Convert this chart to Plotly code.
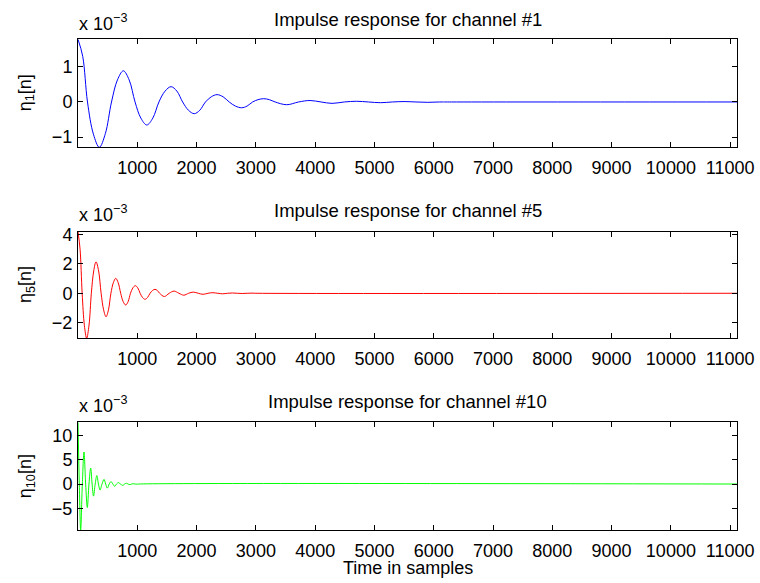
import plotly.graph_objects as go

W, H = 760, 583

# ---------------- data (values in units of 1e-3, read/estimated from the picture) ----------------
ch1_n = [0, 80, 160, 260, 360, 462, 565, 665, 765, 863, 962, 1060, 1160, 1262, 1365,
         1468, 1570, 1668, 1765, 1862, 1960, 2055, 2150, 2248, 2345, 2448, 2550,
         2655, 2760, 2852, 2945, 3037, 3130, 3228, 3325, 3521, 3720, 3914, 4100,
         4285, 4490, 4700, 4900, 5100, 5300, 5500, 5700, 5900, 6100, 6300, 11115]
ch1_v = [1.79, 1.3, 0, -0.92, -1.294, -0.9, 0, 0.63, 0.89, 0.63, 0, -0.46, -0.657, -0.46, 0,
         0.31, 0.437, 0.31, 0, -0.235, -0.334, -0.235, 0, 0.148, 0.21, 0.148, 0,
         -0.117, -0.165, -0.117, 0, 0.066, 0.094, 0.066, 0, -0.078, 0, 0.042, 0,
         -0.04, 0, 0.02, 0, -0.02, 0, 0.012, 0, -0.01, 0, 0, 0]

ch5_n = [0, 35, 70, 108, 146, 186, 225, 265, 304, 348, 390, 432, 473, 514, 555,
         596, 636, 678, 720, 762, 804, 845, 885, 926, 967, 1008, 1048, 1089, 1130,
         1172, 1215, 1257, 1299, 1338, 1377, 1456, 1538, 1620, 1702, 1785, 1865,
         1945, 2028, 2110, 2192, 2275, 2358, 2440, 2522, 2605, 2688, 2770, 2852,
         2935, 3020, 11115]
ch5_v = [4.2, 3.0, 0, -2.2, -3.07, -2.17, 0, 1.52, 2.15, 1.52, 0, -1.13, -1.6, -1.13, 0,
         0.72, 1.02, 0.72, 0, -0.57, -0.8, -0.57, 0, 0.37, 0.52, 0.37, 0, -0.29, -0.41,
         -0.29, 0, 0.19, 0.27, 0.19, 0, -0.22, 0, 0.15, 0, -0.13, 0,
         0.08, 0, -0.07, 0, 0.04, 0, -0.035, 0, 0.02, 0, -0.015, 0,
         0.01, 0, 0]

ch10_n = [0, 22, 45, 73, 101, 129, 157, 185, 214, 238, 262, 290, 318, 345, 372, 405,
          439, 467, 495, 526, 557, 588, 619, 650, 681, 717, 754, 785, 815, 845, 875,
          905, 935, 965, 995, 1025, 11115]
ch10_v = [12.75, 0, -9.5, 0, 6.6, 0, -4.85, 0, 3.3, 0, -2.5, 0, 1.75, 0, -1.25, 0,
          0.95, 0, -0.85, 0, 0.5, 0, -0.48, 0, 0.28, 0, -0.28, 0, 0.15, 0, -0.12,
          0, 0.06, 0, -0.04, 0, 0]

x_ticks = [1000, 2000, 3000, 4000, 5000, 6000, 7000, 8000, 9000, 10000, 11000]
x_range = [0, 11115]

titles = ["Impulse response for channel #1",
          "Impulse response for channel #5",
          "Impulse response for channel #10"]
ylabels = ["η<sub>1</sub>[n]", "η<sub>5</sub>[n]", "η<sub>10</sub>[n]"]
y_ticks = [[-1, 0, 1], [-2, 0, 2, 4], [-5, 0, 5, 10]]
y_ranges = [[-1.294, 1.79], [-3.07, 4.2], [-9.5, 12.75]]
colors = ["#0000ff", "#ff0000", "#00ff00"]

series_n = [ch1_n, ch5_n, ch10_n]
series_v = [ch1_v, ch5_v, ch10_v]

# ---------------- layout geometry (pixels) ----------------
x_left, x_right = 78, 737
panels = [(39.3, 147.3), (231.7, 338.3), (422.3, 530.0)]   # (top, bottom)
title_mid = [19.8, 210.0, 401.2]
exp_bottom = [35.8, 227.1, 418.1]

FONT = "Liberation Sans, Arial, Helvetica, sans-serif"

def px_x(p):
    return p / W

def px_y(p):
    return 1 - p / H

fig = go.Figure()
layout = dict(
    width=W, height=H,
    margin=dict(l=0, r=0, t=0, b=0, autoexpand=False),
    paper_bgcolor="white", plot_bgcolor="white",
    showlegend=False,
    font=dict(family=FONT, size=18, color="black"),
)
annotations = []

for i in range(3):
    k = "" if i == 0 else str(i + 1)
    fig.add_trace(go.Scatter(
        x=series_n[i], y=series_v[i], mode="lines",
        line=dict(color=colors[i], width=1, shape="spline", smoothing=1.0),
        xaxis="x" + k, yaxis="y" + k, hoverinfo="skip"))
    top, bot = panels[i]
    layout["xaxis" + k] = dict(
        domain=[px_x(x_left), px_x(x_right)], anchor="y" + k,
        range=x_range, tickvals=x_ticks, ticktext=[str(t) for t in x_ticks],
        showline=True, linecolor="black", linewidth=1, mirror="ticks",
        ticks="inside", ticklen=5, tickcolor="black", tickwidth=1,
        showgrid=False, zeroline=False, ticklabelstandoff=4,
        tickfont=dict(family=FONT, size=18, color="black"))
    layout["yaxis" + k] = dict(
        domain=[px_y(bot), px_y(top)], anchor="x" + k,
        range=y_ranges[i], tickvals=y_ticks[i],
        showline=True, linecolor="black", linewidth=1, mirror="ticks",
        ticks="inside", ticklen=5, tickcolor="black", tickwidth=1,
        showgrid=False, zeroline=False, ticklabelstandoff=1,
        tickfont=dict(family=FONT, size=18, color="black"))
    annotations.append(dict(
        text=titles[i], xref="paper", yref="paper",
        x=px_x((x_left + x_right) / 2), y=px_y(title_mid[i]),
        xanchor="center", yanchor="middle", showarrow=False,
        font=dict(family=FONT, size=18.5, color="black")))
    annotations.append(dict(
        text="x 10<sup>−3</sup>", xref="paper", yref="paper",
        x=px_x(x_left - 1), y=px_y(exp_bottom[i]),
        xanchor="left", yanchor="bottom", showarrow=False,
        font=dict(family=FONT, size=18, color="black")))
    annotations.append(dict(
        text=ylabels[i], xref="paper", yref="paper",
        x=px_x(26), y=px_y((top + bot) / 2), textangle=-90,
        xanchor="center", yanchor="middle", showarrow=False,
        font=dict(family=FONT, size=18, color="black")))

annotations.append(dict(
    text="Time in samples", xref="paper", yref="paper",
    x=px_x(408), y=px_y(568), xanchor="center", yanchor="middle",
    showarrow=False, font=dict(family=FONT, size=18, color="black")))

layout["annotations"] = annotations
fig.update_layout(**layout)
fig.write_html("out.html",
               config={"displayModeBar": False, "staticPlot": True},
               post_script="document.body.style.margin='0';document.body.style.overflow='hidden';")
